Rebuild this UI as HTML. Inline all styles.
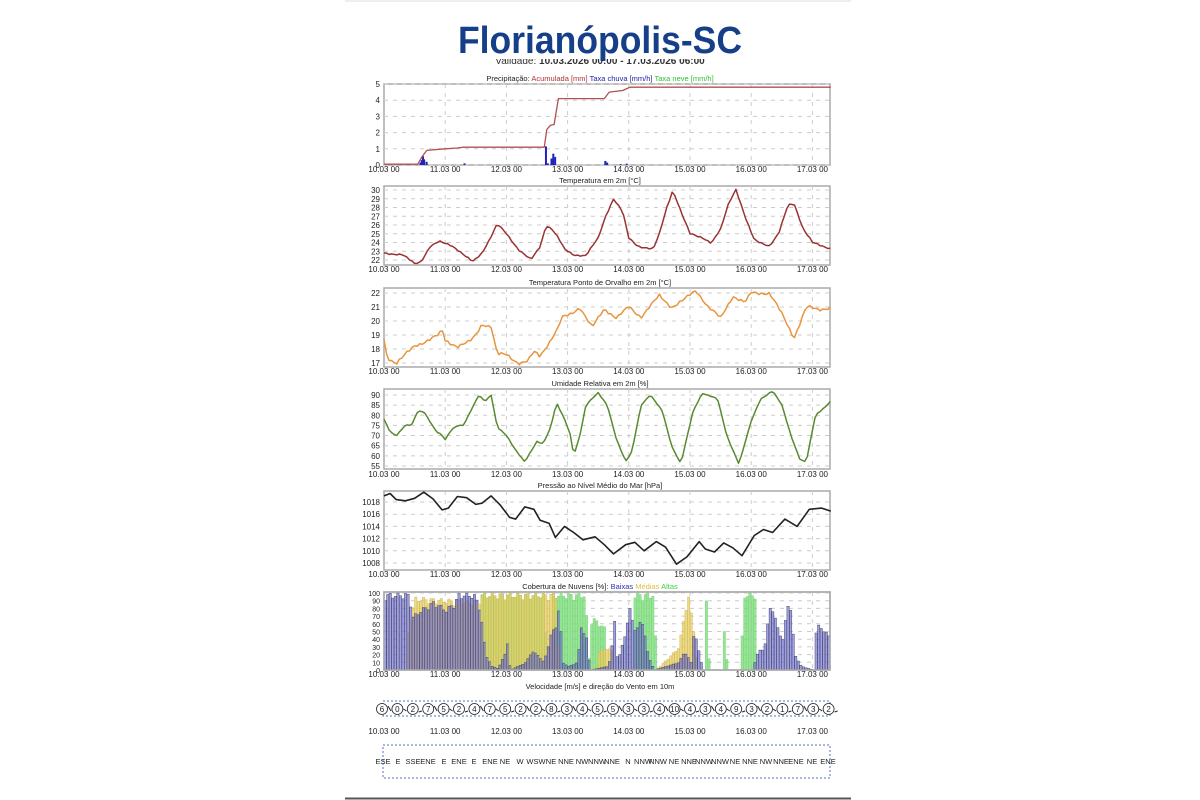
<!DOCTYPE html>
<html><head><meta charset="utf-8"><style>
html,body{margin:0;padding:0;background:#fff;width:1200px;height:800px;overflow:hidden}
svg{position:absolute;left:0;top:0}
text{font-family:"Liberation Sans",sans-serif}
</style></head><body>
<svg id="s" width="1200" height="800" viewBox="0 0 1200 800">
<rect x="0" y="0" width="1200" height="800" fill="#fff"/>
<line x1="345" y1="798.5" x2="851" y2="798.5" stroke="#555" stroke-width="2"/>
<line x1="345" y1="1" x2="851" y2="1" stroke="#eee" stroke-width="2"/>
<defs><clipPath id="cv"><rect x="0" y="59" width="1200" height="10"/></clipPath></defs>
<text x="600" y="64" text-anchor="middle" font-size="10" fill="#333" clip-path="url(#cv)">Validade: <tspan font-weight="bold">10.03.2026 00:00 - 17.03.2026 06:00</tspan></text>
<text x="458" y="53" font-size="38" font-weight="bold" fill="#163f8a" textLength="284" lengthAdjust="spacingAndGlyphs">Florianópolis-SC</text>
<g id="g"></g>
</svg>
<script>
var g=document.getElementById('g'),NS='http://www.w3.org/2000/svg';
function el(t,a,txt){var e=document.createElementNS(NS,t);for(var k in a)e.setAttribute(k,a[k]);if(txt!=null)e.textContent=txt;g.appendChild(e);return e;}
var X0=384,X1=830,DAY=61.2;
function xd(d){return X0+d*DAY;}
var days=['10.03 00','11.03 00','12.03 00','13.03 00','14.03 00','15.03 00','16.03 00','17.03 00'];
function panel(top,bot,labY){
  el('rect',{x:X0,y:top,width:X1-X0,height:bot-top,fill:'#fff',stroke:'#aaa','stroke-width':1.5});
  for(var i=1;i<8;i++){var x=xd(i);el('line',{x1:x,x2:x,y1:top,y2:bot,stroke:'#ccc','stroke-dasharray':'4,5'});}
  days.forEach(function(d,i){el('text',{x:xd(i),y:labY,'text-anchor':'middle','font-size':8,fill:'#222'},d);});
}
function yt(vals,f,fs){vals.forEach(function(v){var y=f(v);el('line',{x1:X0,x2:X1,y1:y,y2:y,stroke:'#ccc','stroke-dasharray':'4,5'});el('text',{x:X0-4,y:y+3,'text-anchor':'end','font-size':fs||8,fill:'#222'},v);});}
function line(pts,fy,col,w){var d='';pts.forEach(function(p,i){d+=(i?'L':'M')+xd(p[0]).toFixed(1)+','+fy(p[1]).toFixed(1);});
  el('path',{d:d,fill:'none',stroke:col,'stroke-width':w||1.5,'stroke-linejoin':'round'});}
function interp(pts,t){if(t<=pts[0][0])return pts[0][1];for(var i=1;i<pts.length;i++){if(t<=pts[i][0]){var a=pts[i-1],b=pts[i];return a[1]+(b[1]-a[1])*(t-a[0])/(b[0]-a[0]);}}return pts[pts.length-1][1];}
function jag(pts,amp){var out=[];for(var t=0;t<=7.3;t+=1/24){var v=interp(pts,t)+amp*Math.sin(t*97.3)*Math.cos(t*41.1);out.push([t,v]);}return out;}

// Precip
el('text',{x:600,y:81,'text-anchor':'middle','font-size':7.5,fill:'#222'}).innerHTML='Precipitação: <tspan fill="#b03030">Acumulada [mm]</tspan> <tspan fill="#2020b0">Taxa chuva [mm/h]</tspan> <tspan fill="#30c030">Taxa neve [mm/h]</tspan>';
var fp=function(v){return 165-v*16.2};
panel(84,165,172);yt([0,1,2,3,4,5],fp);
[[0.58,0.15],[0.6,0.3],[0.62,0.55],[0.64,0.35],[0.68,0.2],[1.3,0.1],[2.63,1.15],[2.66,0.1],[2.72,0.4],[2.75,0.7],[2.78,0.5],[3.6,0.25],[3.63,0.15],[3.85,0.05],[3.95,0.08]].forEach(function(b){el('rect',{x:xd(b[0]),y:fp(b[1]),width:2,height:165-fp(b[1]),fill:'#2222bb'});});
line([[0,0.05],[0.55,0.05],[0.62,0.5],[0.7,0.9],[1.0,1.0],[1.2,1.05],[1.3,1.1],[2.62,1.1],[2.66,2.2],[2.72,2.45],[2.78,2.5],[2.85,4.1],[3.6,4.1],[3.68,4.5],[3.9,4.6],[4.02,4.8],[7.3,4.8]],fp,'#b05050',1.3);

// Temperature
el('text',{x:600,y:183,'text-anchor':'middle','font-size':7.5,fill:'#222'},'Temperatura em 2m [°C]');
var ft=function(v){return 260-(v-22)*8.75};
panel(186,265,272);yt([22,23,24,25,26,27,28,29,30],ft);
line(jag([[0,22.8],[0.3,22.6],[0.5,21.6],[0.6,21.8],[0.75,23.5],[0.9,24.1],[1.1,23.7],[1.2,23.2],[1.35,22.3],[1.45,21.8],[1.6,22.8],[1.75,24.7],[1.85,26.1],[2.0,25],[2.2,23.2],[2.4,22],[2.55,23.5],[2.65,26],[2.75,25.5],[2.85,24.5],[2.95,23.2],[3.1,22.6],[3.3,22.5],[3.5,24.5],[3.62,27],[3.75,29],[3.9,27.5],[4.0,24.5],[4.15,23.6],[4.4,23.2],[4.5,25],[4.62,28],[4.72,30],[4.88,27],[5.0,25],[5.2,24.6],[5.35,23.9],[5.5,25.5],[5.63,28.5],[5.75,30.1],[5.92,26.5],[6.05,24.3],[6.3,23.6],[6.45,25],[6.6,28.3],[6.7,28.5],[6.85,25.5],[7.0,24],[7.3,23.3]],0.12),ft,'#993333',1.5);

// Dew point
el('text',{x:600,y:285,'text-anchor':'middle','font-size':7.5,fill:'#222'},'Temperatura Ponto de Orvalho em 2m [°C]');
var fd=function(v){return 363-(v-17)*14};
panel(288,367,374);yt([17,18,19,20,21,22],fd);
line(jag([[0,18.7],[0.05,17.4],[0.2,17],[0.35,17.6],[0.5,18.2],[0.7,18.6],[0.9,19],[0.95,19.4],[1.0,18.6],[1.1,18.4],[1.2,18.2],[1.4,18.5],[1.5,19],[1.6,19.8],[1.75,19.6],[1.85,17.6],[2.0,17.6],[2.2,17],[2.35,17.1],[2.45,17.8],[2.55,17.5],[2.7,18.5],[2.85,19.5],[2.9,20.2],[3.05,20.5],[3.2,21],[3.4,19.5],[3.6,20.9],[3.8,20.2],[4.0,21],[4.2,20.3],[4.5,21.8],[4.7,21],[4.9,21.5],[5.1,22.2],[5.3,21],[5.5,20.2],[5.7,21.8],[5.9,21.3],[6.0,22],[6.3,22],[6.5,20.5],[6.7,18.8],[6.9,21],[7.1,20.8],[7.3,21]],0.15),fd,'#e8953e',1.5);

// RH
el('text',{x:600,y:386,'text-anchor':'middle','font-size':7.5,fill:'#222'},'Umidade Relativa em 2m [%]');
var fr=function(v){return 466-(v-55)*2.03};
panel(389,469,477);yt([55,60,65,70,75,80,85,90],fr);
line(jag([[0,78],[0.1,72],[0.2,70],[0.35,75],[0.45,75],[0.55,82],[0.65,82],[0.75,77],[0.85,72],[0.95,70],[1.0,68],[1.1,73],[1.2,75],[1.3,75],[1.45,84],[1.55,90],[1.65,87],[1.75,90],[1.85,74],[2.0,70],[2.15,63],[2.3,57],[2.5,67],[2.6,66],[2.72,74],[2.82,86],[2.95,78],[3.05,70],[3.1,60],[3.2,70],[3.3,85],[3.5,91],[3.65,85],[3.8,68],[3.95,57],[4.05,62],[4.2,85],[4.35,90],[4.55,82],[4.7,65],[4.85,56],[5.05,82],[5.2,91],[5.45,88],[5.6,70],[5.8,56],[6.0,77],[6.15,88],[6.35,92],[6.5,85],[6.65,70],[6.8,58],[6.9,57],[7.05,80],[7.2,84],[7.3,87]],0.3),fr,'#5a8a30',1.5);

// Pressure
el('text',{x:600,y:488,'text-anchor':'middle','font-size':7.5,fill:'#222'},'Pressão ao Nível Médio do Mar [hPa]');
var fq=function(v){return 563-(v-1008)*6.1};
panel(491,570,577);yt([1008,1010,1012,1014,1016,1018],fq);
line([[0,1019],[0.1,1019.4],[0.2,1018.4],[0.35,1018.2],[0.5,1018.6],[0.65,1019.6],[0.8,1018.5],[0.95,1016.7],[1.05,1017],[1.2,1018.9],[1.35,1018.7],[1.5,1017.6],[1.6,1017.8],[1.75,1019],[1.9,1017.5],[2.05,1015.5],[2.15,1015.2],[2.3,1017.2],[2.45,1016.8],[2.55,1015],[2.7,1014.5],[2.8,1012.2],[2.95,1014],[3.1,1013],[3.25,1011.8],[3.45,1012.3],[3.6,1011],[3.75,1009.5],[3.95,1011],[4.1,1011.4],[4.25,1010],[4.45,1011.5],[4.6,1010.6],[4.78,1007.8],[4.95,1009],[5.15,1011.5],[5.25,1010.3],[5.4,1009.8],[5.55,1011.3],[5.7,1010.5],[5.85,1009.2],[6.05,1012.5],[6.2,1013.5],[6.35,1013],[6.55,1015.2],[6.75,1014],[6.95,1016.8],[7.15,1017],[7.3,1016.5]],fq,'#222',1.6);

// Clouds
el('text',{x:600,y:589,'text-anchor':'middle','font-size':7.5,fill:'#222'}).innerHTML='Cobertura de Nuvens [%]: <tspan fill="#3030c0">Baixas</tspan> <tspan fill="#e0c040">Médias</tspan> <tspan fill="#40d040">Altas</tspan>';
var fc=function(v){return 670-v*0.77};
panel(592,670,677);yt([0,10,20,30,40,50,60,70,80,90,100],fc,7);
var high=[[0,0],[1.55,0],[1.58,100],[2.6,100],[2.65,0],[2.72,0],[2.75,100],[3.28,100],[3.32,0],[3.38,70],[3.6,55],[3.62,0],[4.05,0],[4.08,100],[4.4,100],[4.43,0],[5.22,0],[5.25,90],[5.3,0],[5.5,0],[5.53,60],[5.6,0],[5.82,0],[5.85,100],[6.05,100],[6.08,0],[7.3,0]];
var mid=[[0,0],[0.35,0],[0.38,60],[0.5,95],[1.5,90],[1.6,100],[2.8,100],[2.85,0],[3.45,0],[3.5,25],[3.7,30],[3.75,0],[4.4,0],[4.5,5],[4.8,30],[4.95,100],[5.05,50],[5.1,0],[7.3,0]];
var low=[[0,100],[0.4,100],[0.45,70],[0.6,80],[0.8,90],[1.0,80],[1.15,90],[1.2,100],[1.45,100],[1.55,85],[1.65,20],[1.75,5],[1.85,2],[1.95,20],[2.0,35],[2.05,0],[2.3,10],[2.4,25],[2.5,20],[2.6,10],[2.7,45],[2.8,60],[2.85,90],[2.9,10],[3.0,5],[3.15,10],[3.2,60],[3.3,40],[3.35,0],[3.65,5],[3.7,25],[3.75,65],[3.8,10],[3.9,40],[4.0,80],[4.1,50],[4.2,70],[4.3,20],[4.4,0],[4.8,10],[4.9,25],[5.0,10],[5.05,55],[5.15,15],[5.2,0],[6.0,0],[6.1,25],[6.2,30],[6.3,90],[6.4,60],[6.5,40],[6.6,100],[6.7,20],[6.8,5],[7.0,0],[7.05,60],[7.15,55],[7.3,40]];
var bw=DAY/24;
for(var t=0;t<7.28;t+=1/24){var x=xd(t);
 [[high,'rgba(110,225,110,0.75)','#8c8'],[mid,'rgba(235,205,90,0.75)','#cb6'],[low,'rgba(110,110,215,0.65)','#446']].forEach(function(s){
  var v=interp(s[0],t)*(0.9+0.1*Math.abs(Math.sin(t*53)));if(v>1)el('rect',{x:x.toFixed(1),y:fc(v).toFixed(1),width:(bw-0.3).toFixed(1),height:(670-fc(v)).toFixed(1),fill:s[1],stroke:s[2],'stroke-width':0.5});});
}
el('rect',{x:X0,y:592,width:X1-X0,height:78,fill:'none',stroke:'#aaa','stroke-width':1.5});

// Wind
el('text',{x:600,y:689,'text-anchor':'middle','font-size':7.5,fill:'#222'},'Velocidade [m/s] e direção do Vento em 10m');
el('rect',{x:383,y:701,width:447,height:15,fill:'none',stroke:'#5070c0','stroke-dasharray':'2,2'});
var nums=[6,0,2,7,5,2,4,7,5,2,2,8,3,4,5,5,3,3,4,10,4,3,4,9,3,2,1,7,3,2];
nums.forEach(function(n,i){var x=382+i*15.4;el('circle',{cx:x,cy:709,r:5.5,fill:'#fff',stroke:'#222','stroke-width':0.8});
 el('text',{x:x,y:712,'text-anchor':'middle','font-size':8,fill:'#222'},n);
 el('line',{x1:x+6,y1:709+((i%3)-1)*3,x2:x+9,y2:711,stroke:'#222','stroke-width':1});});
days.forEach(function(d,i){el('text',{x:xd(i),y:734,'text-anchor':'middle','font-size':8,fill:'#222'},d);});
el('rect',{x:383,y:745,width:447,height:33,fill:'none',stroke:'#5070c0','stroke-dasharray':'2,2'});
var dirs='ESE E SSE ENE E ENE E ENE NE W WSW NE NNE NW NNW NNE N NNW NNW NE NNE NNW NNW NE NNE NW NNE ENE NE ENE'.split(' ');
var pos=[383,398,413,428,444,459,474,490,505,520,536,551,566,582,597,612,628,643,658,674,689,704,720,735,750,766,781,796,812,828];
dirs.forEach(function(d,i){el('text',{x:pos[i],y:764,'text-anchor':'middle','font-size':7.5,fill:'#222'},d);});
</script>
</body></html>
